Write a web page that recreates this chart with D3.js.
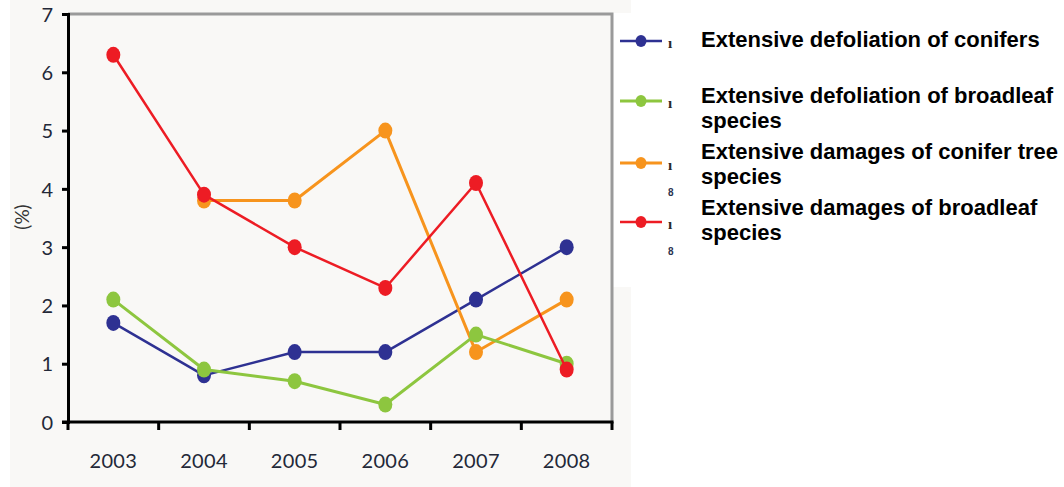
<!DOCTYPE html>
<html>
<head>
<meta charset="utf-8">
<script src="https://cdn.jsdelivr.net/npm/d3@7"></script>
<style>
  html, body { margin: 0; padding: 0; background: #ffffff; }
  svg { display: block; }
</style>
</head>
<body>
<svg id="chart" width="1064" height="487"></svg>
<script>
const years = ["2003", "2004", "2005", "2006", "2007", "2008"];
const yTicks = [0, 1, 2, 3, 4, 5, 6, 7];
const conifersDefoliation = [1.7, 0.8, 1.2, 1.2, 2.1, 3.0];
const broadleafDefoliation = [2.1, 0.9, 0.7, 0.3, 1.5, 1.0];
const coniferDamages = [null, 3.8, 3.8, 5.0, 1.2, 2.1];
const broadleafDamages = [6.3, 3.9, 3.0, 2.3, 4.1, 0.9];
const seriesNames = [
  ["Extensive defoliation of conifers"],
  ["Extensive defoliation of broadleaf", "species"],
  ["Extensive damages of conifer tree", "species"],
  ["Extensive damages of broadleaf", "species"]
];
const seriesColors = ["#2e3192", "#8dc63f", "#f7941d", "#ed1c24"];
const seriesWidths = [2.5, 3, 3, 2.5];

const series = [conifersDefoliation, broadleafDefoliation, coniferDamages, broadleafDamages]
  .map((vals, i) => ({ vals, name: seriesNames[i], color: seriesColors[i], width: seriesWidths[i] }));

const svg = d3.select("#chart");
const L = 68, R = 612, T = 14, B = 422;

// backgrounds
svg.append("rect").attr("x", 10).attr("y", 0).attr("width", 621).attr("height", 487).attr("fill", "#f9f8f6");
svg.append("rect").attr("x", 613).attr("y", 13).attr("width", 451).attr("height", 274).attr("fill", "#ffffff");

const x = d3.scaleBand().domain(years).range([L, R]).padding(0);
const y = d3.scaleLinear().domain([0, 7]).range([B, T]);

// gray frame top & right
svg.append("path")
  .attr("d", `M${L},${T}H${R}V${B}`)
  .attr("fill", "none").attr("stroke", "#9a9a9a").attr("stroke-width", 3);

const tickFont = "Lato, 'Open Sans', sans-serif";
const tickColor = "#232838";

// y axis
const yAxis = svg.append("g").attr("transform", `translate(${L},0)`)
  .call(d3.axisLeft(y).tickValues(yTicks).tickFormat(d3.format("d")).tickSize(6).tickPadding(9));
yAxis.select(".domain").attr("stroke", "#000").attr("stroke-width", 3);
yAxis.selectAll(".tick line").attr("stroke", "#000").attr("stroke-width", 3);
yAxis.selectAll(".tick text").attr("font-family", tickFont).attr("font-size", 20)
  .attr("fill", tickColor).attr("dy", "0.36em");

// x axis: labels centered, ticks at band edges
const xAxis = svg.append("g").attr("transform", `translate(0,${B})`)
  .call(d3.axisBottom(x).tickSize(0).tickPadding(32));
xAxis.select(".domain").remove();
xAxis.selectAll(".tick text").attr("font-family", tickFont).attr("font-size", 20)
  .attr("fill", tickColor).attr("letter-spacing", "0.3px");
const edges = years.map(d => x(d)).concat([x.range()[1]]);
svg.append("line").attr("x1", L - 6).attr("x2", R + 1.5).attr("y1", B).attr("y2", B)
  .attr("stroke", "#000").attr("stroke-width", 3);
svg.selectAll(".xedge").data(edges).enter().append("line")
  .attr("x1", d => d).attr("x2", d => d).attr("y1", B).attr("y2", B + 8)
  .attr("stroke", "#000").attr("stroke-width", 3);

// y label
svg.append("text").attr("transform", "translate(29,217) rotate(-90)")
  .attr("text-anchor", "middle").attr("font-family", tickFont).attr("font-size", 19)
  .attr("fill", "#333").text("(%)");

// series
const cx = d => x(d) + x.bandwidth() / 2;
const line = d3.line().defined(d => d.v !== null).x(d => cx(d.year)).y(d => y(d.v));
const drawOrder = [0, 2, 1, 3];
drawOrder.forEach(i => {
  const s = series[i];
  const pts = years.map((yr, j) => ({ year: yr, v: s.vals[j] }));
  const g = svg.append("g");
  g.append("path").attr("d", line(pts)).attr("fill", "none")
    .attr("stroke", s.color).attr("stroke-width", s.width).attr("stroke-linejoin", "round");
  g.selectAll("ellipse").data(pts.filter(p => p.v !== null)).enter().append("ellipse")
    .attr("cx", p => cx(p.year)).attr("cy", p => y(p.v)).attr("rx", 7).attr("ry", 8)
    .attr("fill", s.color);
});

// legend
const legendY = [41, 101, 163, 222];
const textBase = [47, 102.5, 158.5, 214.5];
series.forEach((s, i) => {
  const g = svg.append("g");
  g.append("line").attr("x1", 620).attr("x2", 662).attr("y1", legendY[i]).attr("y2", legendY[i])
    .attr("stroke", s.color).attr("stroke-width", s.width);
  g.append("ellipse").attr("cx", 641).attr("cy", legendY[i]).attr("rx", 5.5).attr("ry", 6).attr("fill", s.color);
  g.append("text").attr("x", 668).attr("y", legendY[i] + 7).attr("font-family", "'Liberation Serif', serif")
    .attr("font-weight", "bold").attr("font-size", 15).attr("fill", "#2a2a2a").text("ı");
  if (s.name.length > 1 && i > 1) {
    g.append("text").attr("x", 668).attr("y", legendY[i] + 33).attr("font-family", "'Liberation Sans', sans-serif")
      .attr("font-weight", "bold").attr("font-size", 10).attr("fill", "#2a3350").text("8");
  }
  const t = g.append("text").attr("x", 701).attr("y", textBase[i])
    .attr("font-family", "'Liberation Sans', Arial, sans-serif").attr("font-weight", "bold")
    .attr("font-size", 22).attr("fill", "#000");
  s.name.forEach((ln, k) => {
    t.append("tspan").attr("x", 701).attr("dy", k === 0 ? 0 : 25).text(ln);
  });
});
</script>
</body>
</html>
